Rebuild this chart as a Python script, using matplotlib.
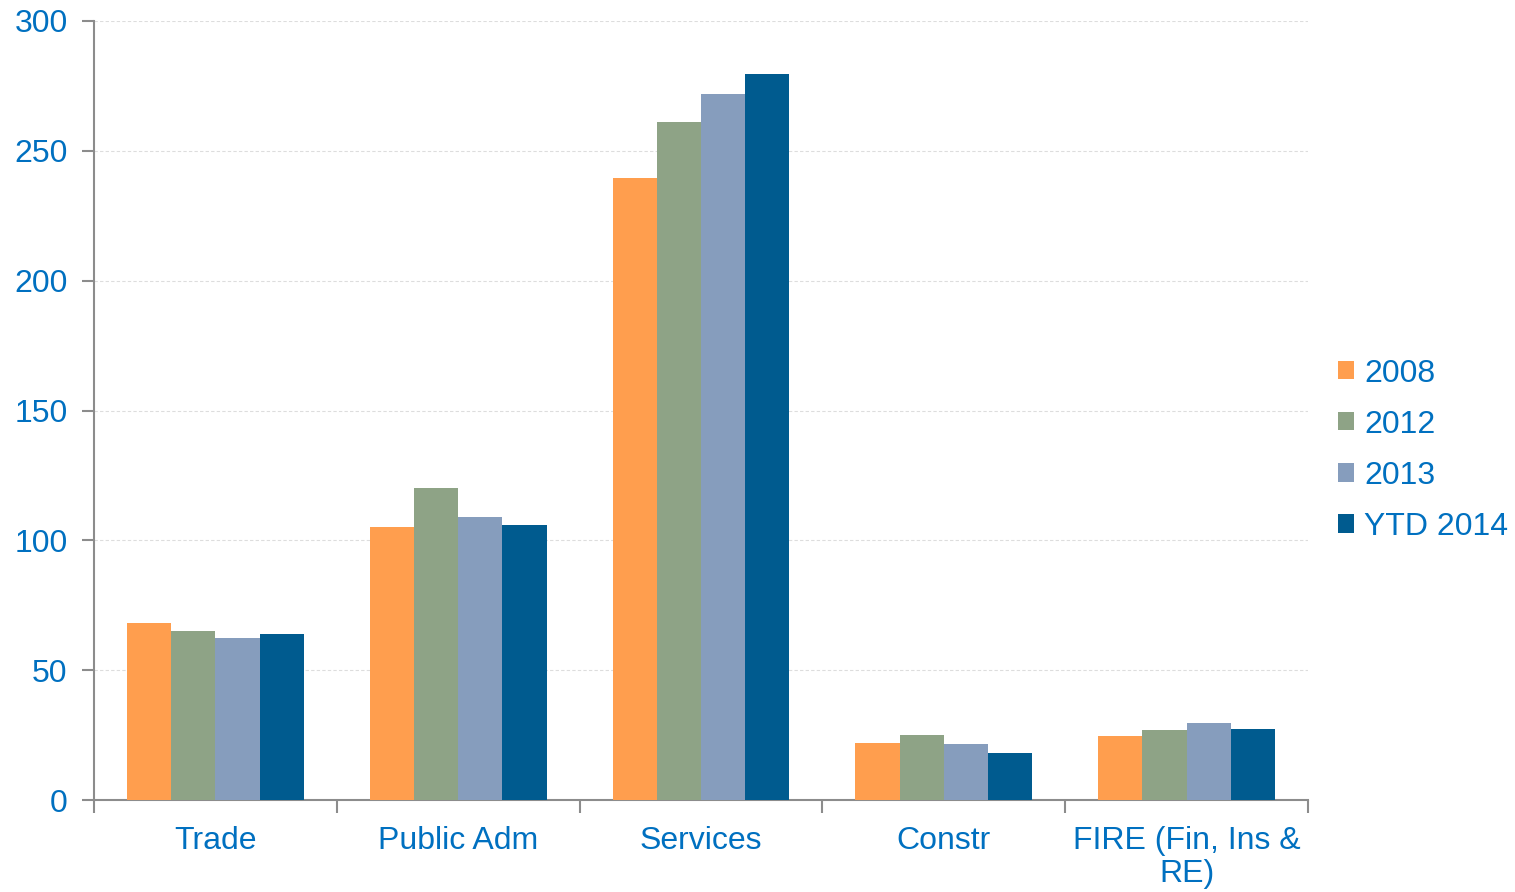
import numpy as np
from matplotlib import pyplot as plt

plt.rcParams['font.family'] = ['Liberation Sans', 'DejaVu Sans']

categories = ["Trade", "Public Adm", "Services", "Constr", "FIRE (Fin, Ins &\nRE)"]
series = ["2008", "2012", "2013", "YTD 2014"]
values = {
    "2008": [68, 105, 239.5, 22, 24.5],
    "2012": [65, 120, 261, 25, 26.8],
    "2013": [62.5, 109, 272, 21.5, 29.5],
    "YTD 2014": [64, 106, 279.5, 18, 27.3],
}
colors = ['#FF9E4E', '#8EA386', '#869DBD', '#005B8F']
yticks = [0, 50, 100, 150, 200, 250, 300]

text_color = '#0070C0'
axis_color = '#8C8C8C'
fs = 23

fig = plt.figure(figsize=(15.15, 8.92), dpi=100)
ax = fig.add_axes([94 / 1515, 1 - 800 / 892, (1308 - 94) / 1515, (800 - 21) / 892])

x = np.arange(len(categories))
bar_w = 0.182
offsets = (np.arange(len(series)) - 1.5) * bar_w
for i, s in enumerate(series):
    ax.bar(x + offsets[i], values[s], bar_w, color=colors[i], label=s, zorder=3)

ax.set_xlim(-0.5, len(categories) - 0.5)
ax.set_ylim(0, 300)
ax.set_yticks(yticks)
ax.set_yticklabels([str(t) for t in yticks], color=text_color, fontsize=fs)
ax.yaxis.grid(True, linestyle=(0, (3, 2)), color='#DDDDDD', linewidth=0.8, zorder=0)

# category labels centred, ticks on boundaries
ax.set_xticks(np.arange(len(categories) + 1) - 0.5)
ax.set_xticklabels([])
ax.set_xticks(x, minor=True)
ax.set_xticklabels(categories, minor=True, color=text_color, fontsize=fs, linespacing=1.12)
ax.tick_params(axis='x', which='minor', length=0, pad=19)
ax.tick_params(axis='x', which='major', length=9, width=1.5, color=axis_color, direction='out')
ax.tick_params(axis='y', length=9, width=1.5, color=axis_color, direction='out', pad=10)

for side in ['top', 'right']:
    ax.spines[side].set_visible(False)
for side in ['left', 'bottom']:
    ax.spines[side].set_color(axis_color)
    ax.spines[side].set_linewidth(1.5)

leg = ax.legend(loc='center left', bbox_to_anchor=(1.025, 0.449), frameon=False,
                fontsize=fs, handlelength=0.5, handleheight=0.5, handletextpad=0.3,
                labelspacing=0.66, borderaxespad=0, borderpad=0)
for t in leg.get_texts():
    t.set_color(text_color)

fig.savefig("out.png", dpi=100)
